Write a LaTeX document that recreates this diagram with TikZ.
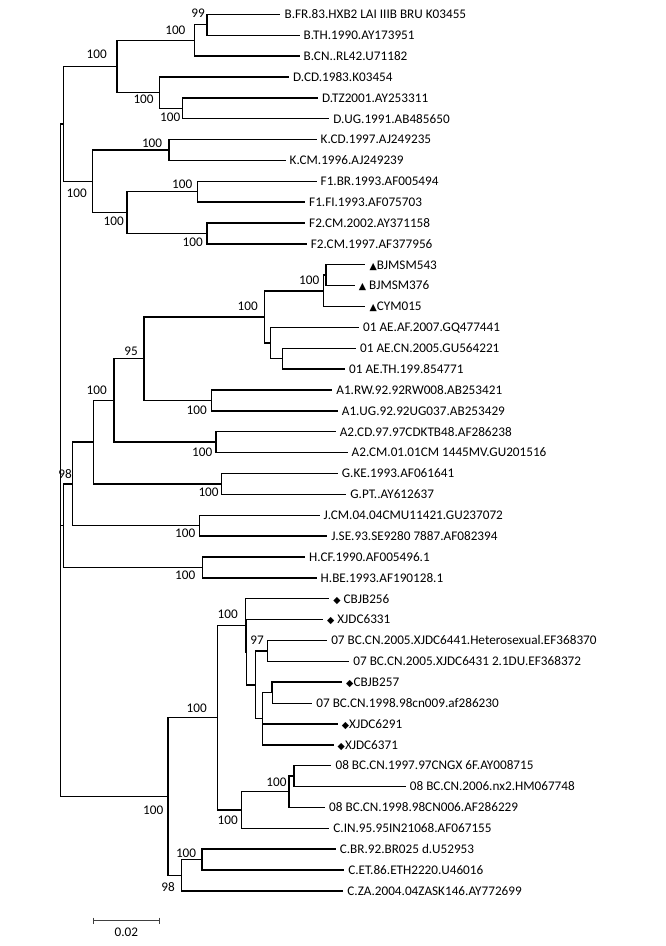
\documentclass[tikz,border=0pt]{standalone}
\usepackage{fontspec}
\setmainfont{Carlito}
\newfontfamily\symfont{DejaVu Sans}
\newcommand{\tmark}{{\symfont\fontsize{9.5}{11}\selectfont ▲}}
\newcommand{\dmark}{{\symfont\fontsize{9.5}{11}\selectfont ◆}}
\tikzstyle{branch} = [line width=1.4pt]
\tikzstyle{thinbranch} = [line width=0.7pt]
\tikzstyle{leaf} = [anchor=west, inner xsep=4pt, inner ysep=0pt, text height=8.6pt, text depth=0pt, font=\fontsize{13.2}{15}\selectfont]
\tikzstyle{bs} = [anchor=east, inner sep=0pt, text height=8.6pt, text depth=0pt, font=\fontsize{13.2}{15}\selectfont]

\begin{document}
\begin{tikzpicture}[x=1pt, y=-1pt]
    \useasboundingbox (0,0) rectangle (666,946);

    % internal nodes
    \coordinate (root) at (60.7,525.6);
    \coordinate (nBDKF) at (63.3,123.9);
    \coordinate (nBD) at (116.8,66.5);
    \coordinate (nB) at (194.6,40.4);
    \coordinate (nB99) at (206.9,24.75);
    \coordinate (nD) at (159.3,92.6);
    \coordinate (nD2) at (182.7,108.25);
    \coordinate (nKF) at (92.2,181.3);
    \coordinate (nK) at (169,150);
    \coordinate (nF) at (127,212.6);
    \coordinate (nF1) at (197.5,191.7);
    \coordinate (nF2) at (206.9,233.45);
    \coordinate (nY) at (63.3,525.6);
    \coordinate (nX) at (72.7,483.9);
    \coordinate (nAG) at (93.5,442.1);
    \coordinate (nA) at (114,400.4);
    \coordinate (nAEA1) at (144,358.65);
    \coordinate (nAE) at (264.5,316.9);
    \coordinate (nTR) at (323.5,290.8);
    \coordinate (nTR1) at (326,275.15);
    \coordinate (nAE1) at (270.6,343);
    \coordinate (nAE2) at (282.5,358.65);
    \coordinate (nA1) at (211.6,400.4);
    \coordinate (nA2) at (215.8,442.15);
    \coordinate (nG) at (221.7,483.85);
    \coordinate (nJ) at (199.7,525.65);
    \coordinate (nH) at (202.6,567.35);
    \coordinate (nC) at (167.8,796.45);
    \coordinate (n07C) at (217.5,717.7);
    \coordinate (nP) at (245.7,625.4);
    \coordinate (nQ) at (246.7,652.15);
    \coordinate (nS) at (255.7,684.8);
    \coordinate (n97) at (267.3,650.85);
    \coordinate (nT3) at (262.7,718.7);
    \coordinate (nCB) at (271.9,692.55);
    \coordinate (nCIN) at (241.3,810);
    \coordinate (n08) at (288.9,791.7);
    \coordinate (n08a) at (294,776.05);
    \coordinate (nCC) at (181.4,875.2);
    \coordinate (nCBE) at (201.8,859.55);

    % leaves
    \node[leaf] (bfr) at (280.4,14.3) {B.FR.83.HXB2 LAI IIIB BRU K03455};
    \node[leaf] (bth) at (299.5,35.2) {B.TH.1990.AY173951};
    \node[leaf] (bcn) at (299.5,56.0) {B.CN..RL42.U71182};
    \node[leaf] (dcd) at (288.9,76.9) {D.CD.1983.K03454};
    \node[leaf] (dtz) at (317.8,97.8) {D.TZ2001.AY253311};
    \node[leaf] (dug) at (329.2,118.7) {D.UG.1991.AB485650};
    \node[leaf] (kcd) at (316.5,139.5) {K.CD.1997.AJ249235};
    \node[leaf] (kcm) at (285.5,160.4) {K.CM.1996.AJ249239};
    \node[leaf] (fbr) at (316.5,181.3) {F1.BR.1993.AF005494};
    \node[leaf] (ffi) at (305,202.1) {F1.FI.1993.AF075703};
    \node[leaf] (fcm02) at (305,223) {F2.CM.2002.AY371158};
    \node[leaf] (fcm97) at (306.7,243.9) {F2.CM.1997.AF377956};
    \node[leaf] (bj543) at (365.3,264.7) {\tmark BJMSM543};
    \node[leaf] (bj376) at (354.7,285.6) {\tmark\ BJMSM376};
    \node[leaf] (cym) at (365.3,306.5) {\tmark CYM015};
    \node[leaf] (aeaf) at (359,327.4) {01 AE.AF.2007.GQ477441};
    \node[leaf] (aecn) at (356,348.2) {01 AE.CN.2005.GU564221};
    \node[leaf] (aeth) at (345,369.1) {01 AE.TH.199.854771};
    \node[leaf] (arw) at (332.2,390) {A1.RW.92.92RW008.AB253421};
    \node[leaf] (aug) at (337.7,410.8) {A1.UG.92.92UG037.AB253429};
    \node[leaf] (acd) at (335.6,431.7) {A2.CD.97.97CDKTB48.AF286238};
    \node[leaf] (acm) at (347.5,452.6) {A2.CM.01.01CM 1445MV.GU201516};
    \node[leaf] (gke) at (337.7,473.4) {G.KE.1993.AF061641};
    \node[leaf] (gpt) at (346.2,494.3) {G.PT..AY612637};
    \node[leaf] (jcm) at (319.5,515.2) {J.CM.04.04CMU11421.GU237072};
    \node[leaf] (jse) at (327.1,536.1) {J.SE.93.SE9280 7887.AF082394};
    \node[leaf] (hcf) at (305,556.9) {H.CF.1990.AF005496.1};
    \node[leaf] (hbe) at (316.5,577.8) {H.BE.1993.AF190128.1};
    \node[leaf] (cb256) at (329.2,598.7) {\dmark\ CBJB256};
    \node[leaf] (xj6331) at (322.9,619.5) {\dmark\ XJDC6331};
    \node[leaf] (xj6441) at (327.1,640.4) {07 BC.CN.2005.XJDC6441.Heterosexual.EF368370};
    \node[leaf] (xj6431) at (349.2,661.3) {07 BC.CN.2005.XJDC6431 2.1DU.EF368372};
    \node[leaf] (cb257) at (342,682.1) {\dmark CBJB257};
    \node[leaf] (bc98) at (312.2,703) {07 BC.CN.1998.98cn009.af286230};
    \node[leaf] (xj6291) at (337.7,723.9) {\dmark XJDC6291};
    \node[leaf] (xj6371) at (333.5,744.8) {\dmark XJDC6371};
    \node[leaf] (bc97a) at (331.4,765.6) {08 BC.CN.1997.97CNGX 6F.AY008715};
    \node[leaf] (bc06) at (405.7,786.5) {08 BC.CN.2006.nx2.HM067748};
    \node[leaf] (bc98b) at (325,807.4) {08 BC.CN.1998.98CN006.AF286229};
    \node[leaf] (cin) at (329.2,828.2) {C.IN.95.95IN21068.AF067155};
    \node[leaf] (cbr) at (335.6,849.1) {C.BR.92.BR025 d.U52953};
    \node[leaf] (cet) at (344.1,870) {C.ET.86.ETH2220.U46016};
    \node[leaf] (cza) at (343.2,890.8) {C.ZA.2004.04ZASK146.AY772699};

    % bootstrap values
    \node[bs] (bsB99) at (205,13.5) {99};
    \node[bs] (bsB) at (185.6,30) {100};
    \node[bs] (bsBD) at (107,54.3) {100};
    \node[bs] (bsD) at (153.8,99.3) {100};
    \node[bs] (bsD2) at (180.5,117) {100};
    \node[bs] (bsK) at (162.3,143.3) {100};
    \node[bs] (bsKF) at (87,193.3) {100};
    \node[bs] (bsF1) at (192.4,184) {100};
    \node[bs] (bsF) at (124,220.7) {100};
    \node[bs] (bsF2) at (203,241.7) {100};
    \node[bs] (bsTR) at (319.5,280) {100};
    \node[bs] (bsAE) at (258,305.7) {100};
    \node[bs] (bsAEA1) at (138,351) {95};
    \node[bs] (bsA) at (107,390) {100};
    \node[bs] (bsA1) at (207,410) {100};
    \node[bs] (bsA2) at (212.4,451.7) {100};
    \node[bs] (bsX) at (72,474) {98};
    \node[bs] (bsG) at (218.8,492) {100};
    \node[bs] (bsJ) at (195.4,532.7) {100};
    \node[bs] (bsH) at (195.4,575) {100};
    \node[bs] (bsP) at (238,614.3) {100};
    \node[bs] (bs97) at (264,640) {97};
    \node[bs] (bs07C) at (207,708.3) {100};
    \node[bs] (bs08) at (286.7,781.7) {100};
    \node[bs] (bsCIN) at (238,820) {100};
    \node[bs] (bsC) at (163.5,810) {100};
    \node[bs] (bsCBE) at (196.3,852.7) {100};
    \node[bs] (bsCC) at (175,886.7) {98};

    % branches
    \draw[branch] (root) |- (nBDKF) (root) |- (nY) (root) |- (nC);
    \draw[branch] (nBDKF) |- (nBD) (nBDKF) |- (nKF);
    \draw[branch] (nBD) |- (nB) (nBD) |- (nD);
    \draw[branch] (nB) |- (nB99) (nB) |- (bcn.west);
    \draw[branch] (nB99) |- (bfr.west) (nB99) |- (bth.west);
    \draw[branch] (nD) |- (dcd.west) (nD) |- (nD2);
    \draw[branch] (nD2) |- (dtz.west) (nD2) |- (dug.west);
    \draw[branch] (nKF) |- (nK) (nKF) |- (nF);
    \draw[branch] (nK) |- (kcd.west) (nK) |- (kcm.west);
    \draw[branch] (nF) |- (nF1) (nF) |- (nF2);
    \draw[branch] (nF1) |- (fbr.west) (nF1) |- (ffi.west);
    \draw[branch] (nF2) |- (fcm02.west) (nF2) |- (fcm97.west);
    \draw[branch] (nY) |- (nX) (nY) |- (nH);
    \draw[branch] (nX) |- (nAG);
    \draw[thinbranch] (nX) |- (nJ);
    \draw[branch] (nAG) |- (nA) (nAG) |- (nG);
    \draw[branch] (nA) |- (nAEA1) (nA) |- (nA2);
    \draw[branch] (nAEA1) |- (nAE) (nAEA1) |- (nA1);
    \draw[branch] (nAE) |- (nTR) (nAE) |- (nAE1);
    \draw[branch] (nTR) |- (nTR1) (nTR) |- (cym.west);
    \draw[branch] (nTR1) |- (bj543.west) (nTR1) |- (bj376.west);
    \draw[branch] (nAE1) |- (aeaf.west) (nAE1) |- (nAE2);
    \draw[thinbranch] (nAE2) |- (aecn.west);
    \draw[branch] (nAE2) |- (aeth.west);
    \draw[branch] (nA1) |- (arw.west) (nA1) |- (aug.west);
    \draw[branch] (nA2) |- (acd.west) (nA2) |- (acm.west);
    \draw[branch] (nG) |- (gke.west) (nG) |- (gpt.west);
    \draw[branch] (nJ) |- (jcm.west) (nJ) |- (jse.west);
    \draw[branch] (nH) |- (hcf.west) (nH) |- (hbe.west);
    \draw[branch] (nC) |- (n07C) (nC) |- (nCC);
    \draw[branch] (n07C) |- (nP) (n07C) |- (nCIN);
    \draw[branch] (nP) |- (cb256.west) (nP) |- (nQ);
    \draw[branch] (nQ) |- (xj6331.west) (nQ) |- (nS);
    \draw[branch] (nS) |- (n97) (nS) |- (nT3);
    \draw[branch] (n97) |- (xj6441.west) (n97) |- (xj6431.west);
    \draw[branch] (nT3) |- (nCB) (nT3) |- (xj6291.west) (nT3) |- (xj6371.west);
    \draw[branch] (nCB) |- (cb257.west);
    \draw[thinbranch] (nCB) |- (bc98.west);
    \draw[branch] (nCIN) |- (n08) (nCIN) |- (cin.west);
    \draw[branch] (n08) |- (n08a) (n08) |- (bc98b.west);
    \draw[branch] (n08a) |- (bc97a.west) (n08a) |- (bc06.west);
    \draw[branch] (nCC) |- (nCBE) (nCC) |- (cza.west);
    \draw[branch] (nCBE) |- (cbr.west) (nCBE) |- (cet.west);

    % scale bar
    \coordinate (sbL) at (93.5,920.7);
    \coordinate (sbR) at (159.3,920.7);
    \draw[line width=0.8pt, black!75] (sbL) -- (sbR);
    \draw[line width=0.8pt, black!75] ([yshift=3pt]sbL) -- ([yshift=-3pt]sbL) ([yshift=3pt]sbR) -- ([yshift=-3pt]sbR);
    \node[bs, anchor=center] (sbT) at (126.4,931.7) {0.02};
\end{tikzpicture}
\end{document}
